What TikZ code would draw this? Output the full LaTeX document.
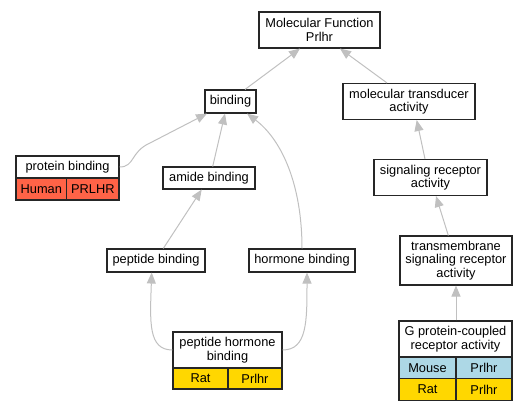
\documentclass[tikz,border=0pt]{standalone}
\usepackage{fontspec}
\setmainfont{Liberation Sans}
\usetikzlibrary{arrows.meta}
\definecolor{edgegrey}{HTML}{C0C0C0}
\definecolor{tomatoc}{HTML}{FF6347}
\definecolor{goldc}{HTML}{FFD700}
\definecolor{bluec}{HTML}{ADD8E6}
\tikzset{
  box/.style={draw=black!85, line width=1.1pt, fill=white, inner sep=0pt, align=center,
    font=\fontsize{12.8}{13.4}\selectfont},
  cell/.style={box},
  edge/.style={draw=edgegrey, line width=1pt, -{Triangle[length=11pt,width=9pt,fill=edgegrey]}},
}
\begin{document}
\begin{tikzpicture}[x=1pt,y=-1pt]
\useasboundingbox (0,0) rectangle (528,411);
% nodes
\node[box, minimum width=121pt, minimum height=36pt] (mf) at (319.5,30) {Molecular Function\\Prlhr};
\node[box, minimum width=51pt, minimum height=23pt] (bind) at (230.5,101.5) {binding};
\node[box, minimum width=132pt, minimum height=36pt] (mt) at (409,101.5) {molecular transducer\\activity};
\node[box, minimum width=103pt, minimum height=22pt] (pb) at (67.5,167) {protein binding};
\node[cell, fill=tomatoc, minimum width=50.7pt, minimum height=22pt] (pbh) at (41.35,189) {Human};
\node[cell, fill=tomatoc, minimum width=52.3pt, minimum height=22pt] (pbg) at (92.85,189) {PRLHR};
\node[box, minimum width=92pt, minimum height=22pt] (amide) at (209,178) {amide binding};
\node[box, minimum width=113pt, minimum height=36pt] (sr) at (430.5,177.5) {signaling receptor\\activity};
\node[box, minimum width=98pt, minimum height=23pt] (pep) at (156,260.5) {peptide binding};
\node[box, minimum width=106pt, minimum height=23pt] (hor) at (302,260.5) {hormone binding};
\node[box, minimum width=112pt, minimum height=49pt] (tm) at (456,260.5) {transmembrane\\signaling receptor\\activity};
\node[box, minimum width=109pt, minimum height=36pt] (phb) at (227.5,350) {peptide hormone\\binding};
\node[cell, fill=goldc, minimum width=55pt, minimum height=21pt] (phbr) at (200.5,378.5) {Rat};
\node[cell, fill=goldc, minimum width=54pt, minimum height=21pt] (phbg) at (255,378.5) {Prlhr};
\node[box, minimum width=113pt, minimum height=36pt] (gpcr) at (455.5,339) {G protein-coupled\\receptor activity};
\node[cell, fill=bluec, minimum width=57pt, minimum height=22pt] (gpm) at (427.5,368) {Mouse};
\node[cell, fill=bluec, minimum width=56pt, minimum height=22pt] (gpmg) at (484,368) {Prlhr};
\node[cell, fill=goldc, minimum width=57pt, minimum height=21.5pt] (gpr) at (427.5,389.5) {Rat};
\node[cell, fill=goldc, minimum width=56pt, minimum height=21.5pt] (gprg) at (484,389.5) {Prlhr};
% edges
\draw[edge] ([xshift=14.5pt]bind.north) -- ([xshift=-19.5pt]mf.south);
\draw[edge] ([xshift=-22pt]mt.north) -- ([xshift=20.5pt]mf.south);
\draw[edge] (pb.east) .. controls (135,167) and (130,152) .. (150,143) -- ([xshift=-23.5pt]bind.south);
\draw[edge] ([xshift=3.7pt]amide.north) -- ([xshift=-5.5pt]bind.south);
\draw[edge] (hor.north) .. controls (302,185) and (282,140) .. ([xshift=16.5pt]bind.south);
\draw[edge] ([xshift=7.3pt]pep.north) -- ([xshift=-7.3pt]amide.south);
\draw[edge] ([xshift=-5.5pt]sr.north) -- ([xshift=7.7pt]mt.south);
\draw[edge] ([xshift=-7.7pt]tm.north) -- ([xshift=5.5pt]sr.south);
\draw[edge] ([xshift=0.5pt]gpcr.north) -- ([xshift=0.5pt]gpcr.north |- tm.south);
\draw[edge] (phb.west) .. controls (148,350) and (150,322) .. ([xshift=-4.3pt]pep.south);
\draw[edge] (phb.east) .. controls (307,350) and (307,322) .. ([xshift=5pt]hor.south);
\end{tikzpicture}
\end{document}
